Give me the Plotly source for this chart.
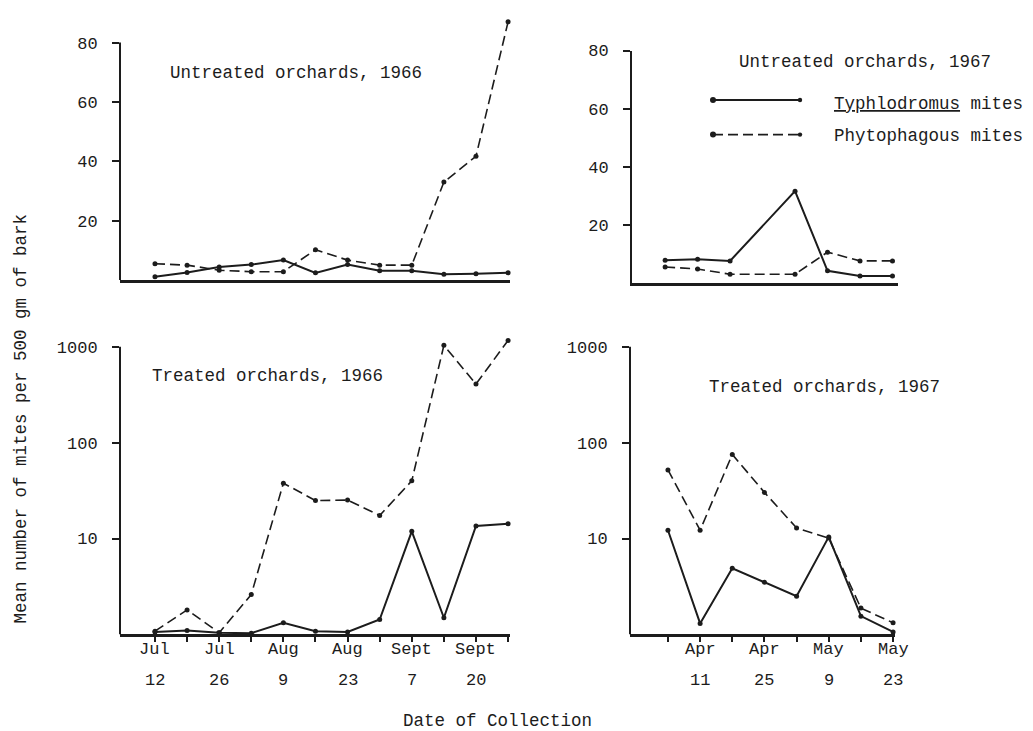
import plotly.graph_objects as go

# ---------------- data ----------------
dates_1966 = ["Jul 12", "Jul 19", "Jul 26", "Aug 2", "Aug 9", "Aug 16", "Aug 23",
              "Aug 30", "Sept 7", "Sept 13", "Sept 20", "Sept 27"]
dates_1967 = ["Apr 4", "Apr 11", "Apr 18", "Apr 25", "May 2", "May 9", "May 16", "May 23"]
dates_1967_untreated = ["Apr 4", "Apr 11", "Apr 18", "May 2", "May 9", "May 16", "May 23"]

ut66_typh = [1.1, 2.5, 4.4, 5.2, 6.7, 2.4, 5.2, 3.1, 3.1, 1.9, 2.1, 2.4]
ut66_phyto = [5.5, 5.0, 3.3, 2.8, 2.8, 10.2, 6.7, 5.0, 5.0, 33, 41.7, 87]

ut67_typh = [7.8, 8.2, 7.6, 31.6, 4.2, 2.4, 2.4]
ut67_phyto = [5.5, 4.8, 3.0, 3.0, 10.6, 7.6, 7.6]

t66_typh = [1.06, 1.1, 1.04, 1.03, 1.32, 1.08, 1.06, 1.43, 11.9, 1.49, 13.5, 14.3]
t66_phyto = [1.08, 1.8, 1.04, 2.6, 37.8, 24.9, 25.2, 17.4, 40, 1037, 409, 1167]

t67_typh = [12.2, 1.3, 4.9, 3.5, 2.5, 10.4, 1.55, 1.06]
t67_phyto = [52, 12.2, 75.5, 30.3, 12.9, 10.1, 1.88, 1.32]

lin_ticks = [20, 40, 60, 80]
log_ticks = [10, 100, 1000]

tick_dates_1966 = ["Jul 12", "Jul 26", "Aug 9", "Aug 23", "Sept 7", "Sept 20"]
tick_months_1966 = ["Jul", "Jul", "Aug", "Aug", "Sept", "Sept"]
tick_days_1966 = ["12", "26", "9", "23", "7", "20"]
tick_dates_1967 = ["Apr 11", "Apr 25", "May 9", "May 23"]
tick_months_1967 = ["Apr", "Apr", "May", "May"]
tick_days_1967 = ["11", "25", "9", "23"]

panel_titles = ["Untreated orchards, 1966", "Untreated orchards, 1967",
                "Treated orchards, 1966", "Treated orchards, 1967"]
legend_labels = ["<u>Typhlodromus</u> mites", "Phytophagous mites"]
y_title = "Mean number of mites per 500 gm of bark"
x_title = "Date of Collection"

# ---------------- styling ----------------
W, H = 1033, 731
FONT = "Liberation Mono, Courier New, monospace"
INK = "#1c1c1c"
DASH = "10px,5px"


def px(x):
    return x / W


def py(y):
    return 1 - y / H


fig = go.Figure()


def add_pair(xs, typh, phyto, xa, ya):
    fig.add_trace(go.Scatter(x=xs, y=typh, mode="lines+markers", xaxis=xa, yaxis=ya,
                             line=dict(color=INK, width=2), marker=dict(size=5, color=INK),
                             cliponaxis=False, showlegend=False, hoverinfo="x+y"))
    fig.add_trace(go.Scatter(x=xs, y=phyto, mode="lines+markers", xaxis=xa, yaxis=ya,
                             line=dict(color=INK, width=1.6, dash=DASH), marker=dict(size=5, color=INK),
                             cliponaxis=False, showlegend=False, hoverinfo="x+y"))


add_pair(dates_1966, ut66_typh, ut66_phyto, "x", "y")
add_pair(dates_1967_untreated, ut67_typh, ut67_phyto, "x2", "y2")
add_pair(dates_1966, t66_typh, t66_phyto, "x3", "y3")
add_pair(dates_1967, t67_typh, t67_phyto, "x4", "y4")

tickfont = dict(family=FONT, size=17, color=INK)
textfont = dict(family=FONT, size=17.5, color=INK)

common_x = dict(type="category", showgrid=False, zeroline=False, showline=True,
                linecolor=INK, mirror=False, showticklabels=False)
common_y = dict(showgrid=False, zeroline=False, ticks="outside", ticklen=7, tickwidth=1.5,
                tickcolor=INK, tickfont=tickfont, ticklabelstandoff=11)

fig.update_layout(
    width=W, height=H, margin=dict(l=0, r=0, t=0, b=0),
    paper_bgcolor="white", plot_bgcolor="white", showlegend=False,
    font=dict(family=FONT, color=INK),
    # top-left
    xaxis=dict(**common_x, domain=[px(120), px(510)], anchor="y", linewidth=3,
               categoryarray=dates_1966, categoryorder="array",
               range=[-1.09, 11.06], ticks=""),
    yaxis=dict(**common_y, domain=[py(275), py(5)], anchor="x", range=[0, 90],
               tickvals=lin_ticks, showline=False),
    # top-right
    xaxis2=dict(**common_x, domain=[px(632), px(898)], anchor="y2", linewidth=2.5,
                categoryarray=dates_1967, categoryorder="array",
                range=[-1.02, 7.17], ticks=""),
    yaxis2=dict(**common_y, domain=[py(278), py(43)], anchor="x2", range=[0, 80],
                tickvals=lin_ticks, showline=True, linecolor=INK, linewidth=2),
    # bottom-left
    xaxis3=dict(**common_x, domain=[px(120), px(510)], anchor="y3", linewidth=2.5,
                categoryarray=dates_1966, categoryorder="array",
                range=[-1.09, 11.06], ticks="outside", ticklen=5, tickwidth=1.5, tickcolor=INK,
                tickvals=dates_1966),
    yaxis3=dict(**common_y, domain=[py(633.3), py(332.9)], anchor="x3", type="log",
                range=[0, 3.1], tickvals=log_ticks, ticktext=[str(v) for v in log_ticks],
                showline=False),
    # bottom-right
    xaxis4=dict(**common_x, domain=[px(630), px(895)], anchor="y4", linewidth=2.5,
                categoryarray=dates_1967, categoryorder="array",
                range=[-1.18, 7.06], ticks="outside", ticklen=5, tickwidth=1.5, tickcolor=INK,
                tickvals=dates_1967),
    yaxis4=dict(**common_y, domain=[py(633.3), py(332.9)], anchor="x4", type="log",
                range=[0, 3.1], tickvals=log_ticks, ticktext=[str(v) for v in log_ticks],
                showline=False),
)

shapes = []
# vertical axis lines that stop at the top tick
shapes.append(dict(type="line", xref="x domain", yref="y domain", x0=0, x1=0, y0=0, y1=80 / 90,
                   line=dict(color=INK, width=2)))
shapes.append(dict(type="line", xref="x3 domain", yref="y3 domain", x0=0, x1=0, y0=0, y1=3 / 3.1,
                   line=dict(color=INK, width=2)))
shapes.append(dict(type="line", xref="x4 domain", yref="y4 domain", x0=0, x1=0, y0=0, y1=3 / 3.1,
                   line=dict(color=INK, width=2)))

# legend samples
leg_x0, leg_x1 = px(713), px(800)
leg_y = [py(93), py(128)]
shapes.append(dict(type="line", xref="paper", yref="paper", x0=leg_x0, x1=leg_x1,
                   y0=leg_y[0], y1=leg_y[0], line=dict(color=INK, width=2)))
shapes.append(dict(type="line", xref="paper", yref="paper", x0=leg_x0, x1=leg_x1,
                   y0=leg_y[1], y1=leg_y[1], line=dict(color=INK, width=1.6, dash=DASH)))
for yy in leg_y:
    for xx, r in ((leg_x0, 3), (leg_x1, 2.2)):
        shapes.append(dict(type="circle", xref="paper", yref="paper",
                           xsizemode="pixel", ysizemode="pixel", xanchor=xx, yanchor=yy,
                           x0=-r, x1=r, y0=-r, y1=r, fillcolor=INK, line=dict(width=0)))
fig.update_layout(shapes=shapes)

ann = []
title_pos = [(168, 66), (737, 55), (150, 372), (707, 383)]
for t, (tx, ty) in zip(panel_titles, title_pos):
    ann.append(dict(text=t, x=px(tx), y=py(ty), xref="paper", yref="paper", xanchor="left",
                    yanchor="middle", showarrow=False, font=textfont))
for lab, yy in zip(legend_labels, [py(97), py(129)]):
    ann.append(dict(text=lab, x=px(832), y=yy, xref="paper", yref="paper", xanchor="left",
                    yanchor="middle", showarrow=False, font=textfont))
# two-row date labels (month above, day below) under the treated panels
for xa, dates, months, days in (("x3", tick_dates_1966, tick_months_1966, tick_days_1966),
                                ("x4", tick_dates_1967, tick_months_1967, tick_days_1967)):
    for d, m, day in zip(dates, months, days):
        ann.append(dict(text=m, x=d, y=py(649), xref=xa, yref="paper", xanchor="center",
                        yanchor="middle", showarrow=False, font=tickfont))
        ann.append(dict(text=day, x=d, y=py(680), xref=xa, yref="paper", xanchor="center",
                        yanchor="middle", showarrow=False, font=tickfont))
ann.append(dict(text=y_title, x=px(21), y=py(415), xref="paper", yref="paper", textangle=-90,
                xanchor="center", yanchor="middle", showarrow=False, font=textfont))
ann.append(dict(text=x_title, x=px(497), y=py(721), xref="paper", yref="paper",
                xanchor="center", yanchor="middle", showarrow=False, font=textfont))
fig.update_layout(annotations=ann)

fig.write_html(
    "out.html",
    config={"displayModeBar": False},
    post_script=(
        "document.documentElement.style.overflow='hidden';"
        "document.body.style.margin='0';document.body.style.padding='0';"
        "document.body.style.overflow='hidden';"
        "var g=document.getElementById('{plot_id}');"
        "g.style.position='fixed';g.style.left='0px';g.style.top='0px';"
    ),
)
